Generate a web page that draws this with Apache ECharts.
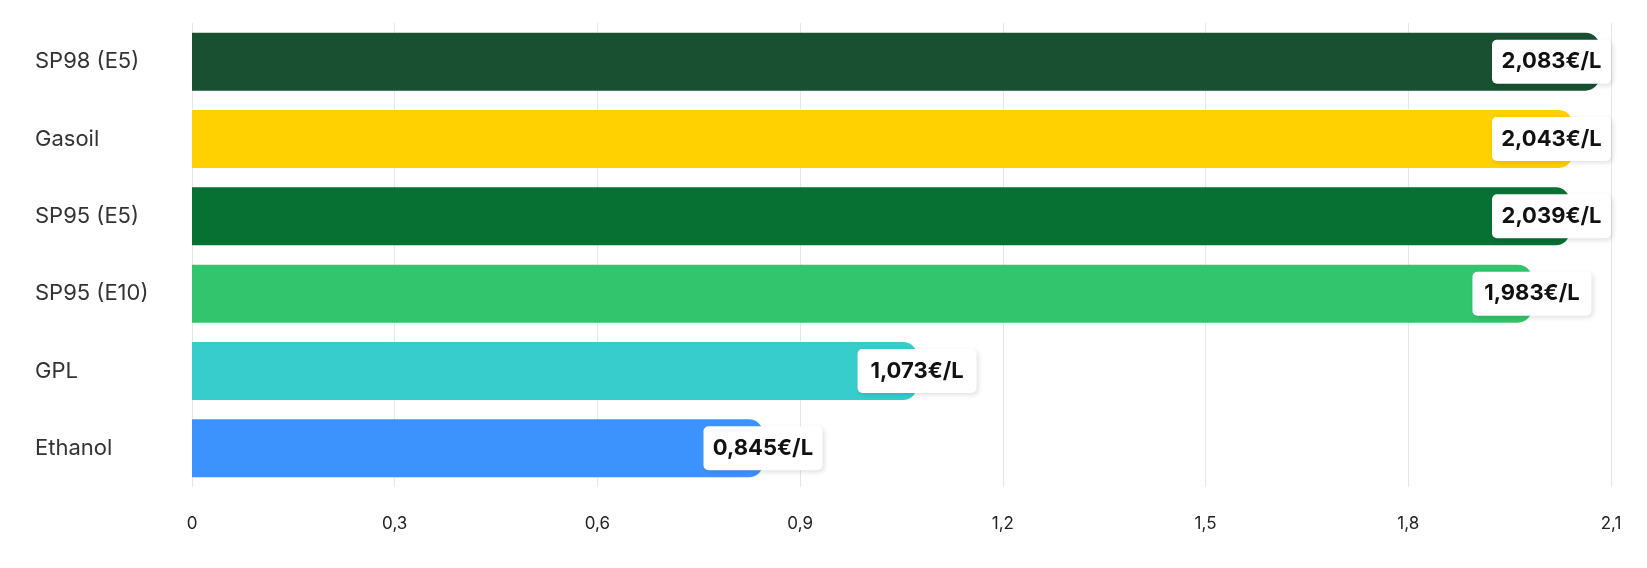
<!DOCTYPE html>
<html>
<head>
<meta charset="utf-8">
<script src="https://cdn.jsdelivr.net/npm/echarts@6/dist/echarts.min.js"></script>
<style>
html, body { margin: 0; padding: 0; background: #fff; }
#chart { width: 1647px; height: 568px; }
</style>
</head>
<body>
<div id="chart"></div>
<script>
var categories = ['SP98 (E5)', 'Gasoil', 'SP95 (E5)', 'SP95 (E10)', 'GPL', 'Ethanol'];
var prices = [2.083, 2.043, 2.039, 1.983, 1.073, 0.845];
var barColors = ['#1a5032', '#ffd100', '#077033', '#33c56d', '#37cdcd', '#3d93fd'];

var labelW = 119; // largeur de la pastille blanche

function fmtPrice(v) {
	return v.toFixed(3).replace('.', ',') + '€/L';
}

var chart = echarts.init(document.getElementById('chart'));

function buildData(offsets) {
	var d = [];
	for (var i = 0; i < prices.length; i++) {
		d.push({
			value: prices[i],
			itemStyle: { color: barColors[i] },
			label: { offset: [offsets ? offsets[i] : 0, 0] }
		});
	}
	return d;
}

var option = {
	animation: false,
	grid: { left: 192, right: 36, top: 23, bottom: 81 },
	xAxis: {
		type: 'value',
		min: 0,
		max: 2.1,
		interval: 0.3,
		axisLine: { show: false },
		axisTick: { show: false },
		splitLine: { lineStyle: { color: '#e6e6e6', width: 1 } },
		axisLabel: {
			margin: 28,
			color: '#222',
			fontSize: 17,
			fontFamily: 'Inter',
			formatter: function (v) { return String(+v.toFixed(1)).replace('.', ','); }
		}
	},
	yAxis: {
		type: 'category',
		inverse: true,
		data: categories,
		axisLine: { show: false },
		axisTick: { show: false },
		axisLabel: {
			align: 'left',
			margin: 157,
			color: '#333',
			fontSize: 22,
			fontFamily: 'Inter'
		}
	},
	series: [{
		type: 'bar',
		barCategoryGap: '25%',
		itemStyle: { borderRadius: [0, 14, 14, 0] },
		label: {
			show: true,
			position: 'right',
			distance: 0,
			align: 'center',
			verticalAlign: 'middle',
			formatter: function (p) { return fmtPrice(p.value); },
			color: '#111',
			fontSize: 22,
			fontWeight: 'bold',
			fontFamily: 'Inter',
			backgroundColor: '#fff',
			borderRadius: 5,
			width: labelW - 12,
			height: 44,
			lineHeight: 44,
			padding: [0, 6],
			shadowColor: 'rgba(0,0,0,0.12)',
			shadowBlur: 5,
			shadowOffsetX: 2,
			shadowOffsetY: 2
		},
		data: buildData(null)
	}]
};

chart.setOption(option);

// garder les pastilles dans la grille (bord droit a 2,1)
var rightEdge = chart.convertToPixel({ xAxisIndex: 0 }, 2.1);
var offs = [];
for (var i = 0; i < prices.length; i++) {
	var px = chart.convertToPixel({ xAxisIndex: 0 }, prices[i]);
	var o = 0;
	if (px + labelW / 2 > rightEdge) {
		o = rightEdge - labelW / 2 - px;
	}
	offs.push(o);
}
chart.setOption({ series: [{ data: buildData(offs) }] });
</script>
</body>
</html>
